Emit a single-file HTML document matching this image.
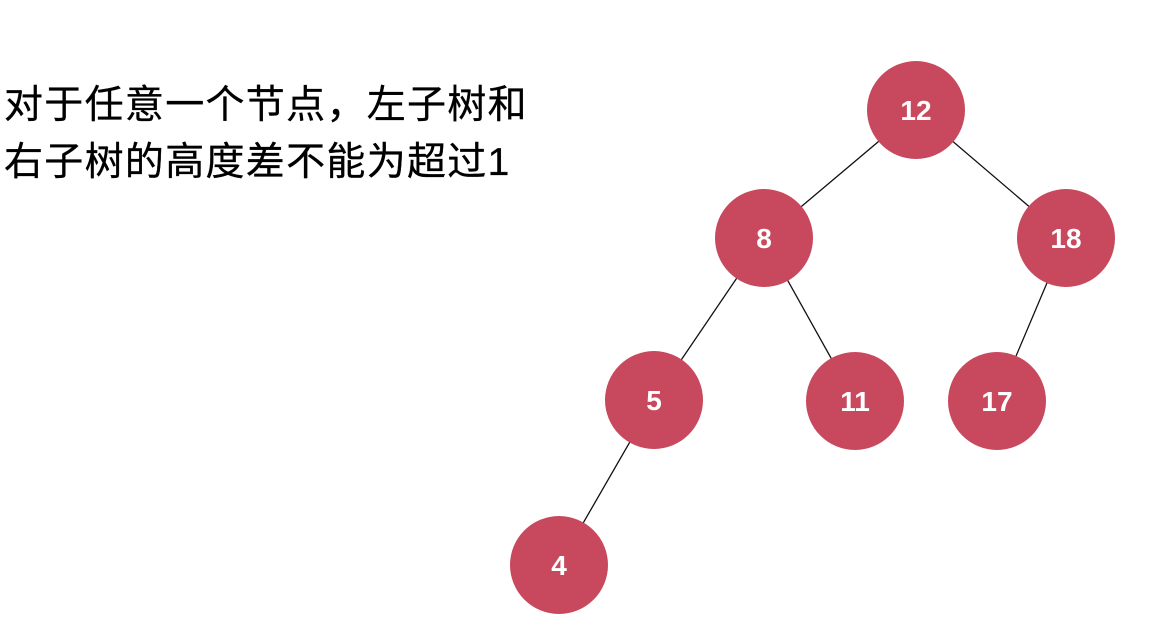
<!DOCTYPE html>
<html><head><meta charset="utf-8"><style>
body{margin:0;background:#fff;width:1171px;height:633px;overflow:hidden;position:relative}
.t{position:absolute;left:4px;top:77px;font-family:"Liberation Sans","Noto Sans CJK SC",sans-serif;font-size:39px;letter-spacing:1.3px;line-height:57px;color:#000;white-space:nowrap;-webkit-text-stroke:0.3px #000}
</style></head><body>
<div class="t">对于任意一个节点，左子树和<br>右子树的高度差不能为超过1</div>
<svg width="1171" height="633" style="position:absolute;left:0;top:0">
<g stroke="#111" stroke-width="1.3">
<line x1="916" y1="110" x2="764" y2="238"/>
<line x1="916" y1="110" x2="1066" y2="238"/>
<line x1="764" y1="238" x2="654" y2="400"/>
<line x1="764" y1="238" x2="855" y2="401"/>
<line x1="1066" y1="238" x2="997" y2="401"/>
<line x1="654" y1="400" x2="559" y2="565"/>
</g>
<g fill="#c8495d">
<circle cx="916" cy="110" r="49"/>
<circle cx="764" cy="238" r="49"/>
<circle cx="1066" cy="238" r="49"/>
<circle cx="654" cy="400" r="49"/>
<circle cx="855" cy="401" r="49"/>
<circle cx="997" cy="401" r="49"/>
<circle cx="559" cy="565" r="49"/>
</g>
<g fill="#fff" font-family="Liberation Sans,sans-serif" font-weight="bold" font-size="28" text-anchor="middle">
<text x="916" y="120">12</text>
<text x="764" y="248">8</text>
<text x="1066" y="248">18</text>
<text x="654" y="410">5</text>
<text x="855" y="411">11</text>
<text x="997" y="411">17</text>
<text x="559" y="575">4</text>
</g>
</svg>
</body></html>
